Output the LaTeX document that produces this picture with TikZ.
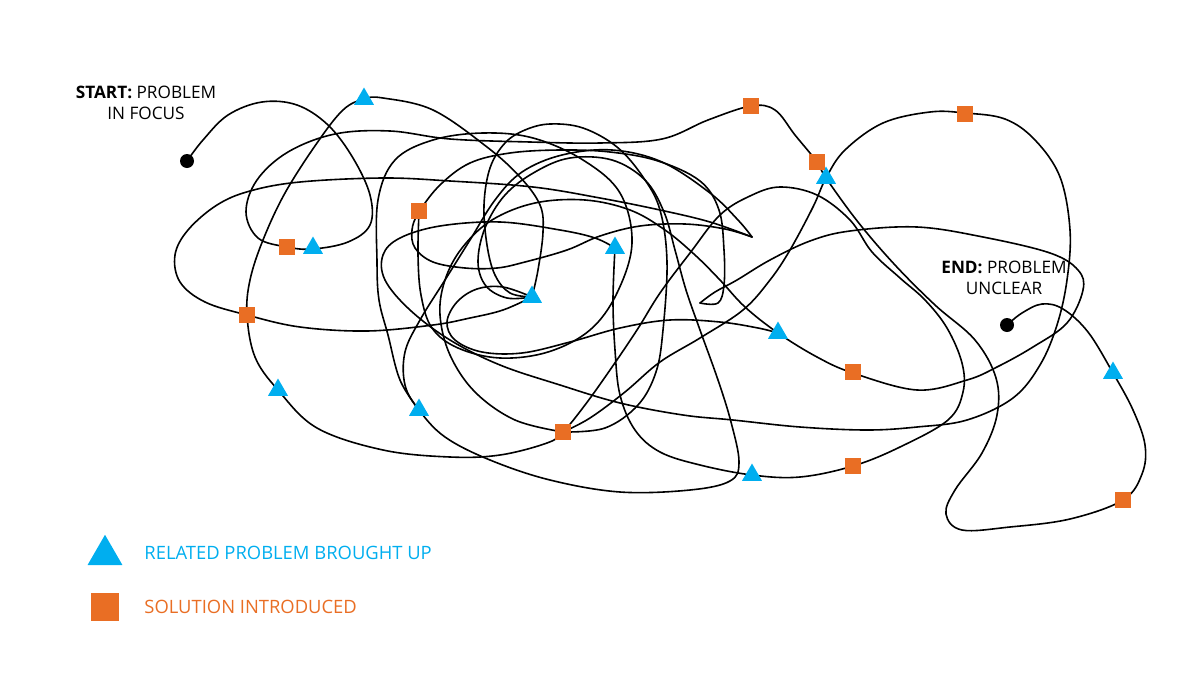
\documentclass[tikz,border=0pt]{standalone}
\usepackage{fontspec}
\setmainfont{Open Sans}
\usetikzlibrary{shapes.geometric}
\definecolor{tblue}{HTML}{00AEEF}
\definecolor{torange}{HTML}{E96E24}
\tikzset{
  scrib/.style={draw=black, line width=0.8pt, line join=round, line cap=round},
  tri/.style={regular polygon, regular polygon sides=3, fill=tblue, draw=none, inner sep=0pt, minimum size=11.5pt},
  sq/.style={rectangle, fill=torange, draw=none, inner sep=0pt, minimum size=8pt},
  dot/.style={circle, fill=black, draw=none, inner sep=0pt, minimum size=7pt},
  lab/.style={align=center, font=\fontsize{8.6}{10.2}\selectfont, text=black, inner sep=0pt},
  legtxt/.style={anchor=west, font=\fontsize{9.2}{11}\selectfont, inner sep=0pt}
}
\begin{document}
\begin{tikzpicture}[x=0.5pt,y=-0.5pt]
\useasboundingbox (0,0) rectangle (1200,675);
% P1 start to end
\draw[scrib] plot[smooth,tension=.6] coordinates {(187,161) (203,140) (228,115) (262,102) (297,105) (328,125) (353,158) (370,195) (370,225) (348,242) (313,249) (287,247) (258,238) (246,212) (257,180) (288,152) (335,134) (390,131) (450,139) (530,142) (600,143) (662,139) (708,120) (751,106) (775,110) (795,135) (817,162) (826,178) (858,222) (895,265) (935,305) (975,340) (996,378) (997,415) (982,453) (955,490) (946,514) (962,530) (1010,527) (1070,519) (1123,500) (1142,474) (1145,445) (1133,410) (1113,373) (1088,332) (1063,309) (1042,304) (1022,313) (1007,325)};
% P2
\draw[scrib] plot[smooth,tension=.6] coordinates {(532,297) (538,270) (543,232) (540,205) (520,177) (487,147) (433,110) (383,98) (364,99) (343,110) (317,143) (285,193) (263,240) (250,280) (247,315) (255,357) (278,390) (317,428) (383,450) (450,457) (500,455) (547,443) (563,432) (585,405) (610,370) (637,330) (660,293) (690,253) (720,215) (750,196) (780,187) (817,195) (850,220) (872,252) (900,278) (925,300) (947,328) (962,363) (963,392) (948,420) (900,447) (853,466) (800,477) (752,475) (700,465) (660,452) (635,430) (620,395) (615,350) (613,300) (615,248)};
% P3
\draw[scrib] plot[smooth,tension=.6] coordinates {(563,432) (590,418) (625,392) (660,362) (700,338) (743,310) (770,280) (790,250) (813,207) (826,178) (845,150) (883,123) (930,112) (965,113) (1005,119) (1035,140) (1060,177) (1070,230) (1067,280) (1057,325) (1040,365) (1013,398) (967,420) (917,427) (867,430) (800,427) (733,420) (683,415) (620,403) (560,385) (500,365) (450,340) (410,310) (385,280) (383,255) (400,238) (440,226) (500,222) (560,230) (595,238) (615,248)};
% P4 big left ellipse to hook
\draw[scrib] plot[smooth,tension=.6] coordinates {(532,297) (503,310) (470,318) (433,325) (367,331) (300,327) (247,315) (205,302) (180,282) (175,255) (188,230) (217,205) (250,191) (300,182) (383,178) (450,181) (533,187) (600,198) (660,210) (710,222) (752,237)};
\draw[scrib] plot[smooth,tension=.6] coordinates {(752,237) (738,220) (710,193) (662,162) (612,150) (562,155) (522,172) (495,200) (470,240) (445,280) (420,320) (405,352) (405,385) (419,410) (445,437) (490,460) (550,480) (620,492) (690,490) (730,481) (739,462) (731,422) (718,380) (700,330) (686,290) (675,250) (664,212) (645,180) (612,160) (570,158) (535,172) (505,195) (485,228) (478,262) (486,286) (507,298) (532,297)};
% P5
\draw[scrib] plot[smooth,tension=.6] coordinates {(752,237) (725,229) (685,224) (640,226) (600,236) (567,250) (525,262) (497,268) (465,268) (433,262) (415,248) (412,230) (419,212) (440,185) (470,163) (510,153) (560,150) (610,152) (658,161) (700,181) (719,210) (724,250) (724,285) (718,303) (700,303)};
\draw[scrib] plot[smooth,tension=.6] coordinates {(700,303) (715,292) (737,280) (770,260) (810,241) (850,231) (917,227) (983,237) (1050,253) (1078,270) (1083,290) (1067,323) (1033,347) (997,367) (967,380) (917,390) (853,373) (817,357) (778,333) (745,307) (720,280) (695,255) (665,230) (630,210) (585,200) (535,203) (492,220) (462,248) (445,280) (440,315) (450,355) (475,392) (515,420) (563,432)};
% P6 inner arches
\draw[scrib] plot[smooth,tension=.6] coordinates {(563,432) (605,428) (638,405) (656,372) (663,330) (667,262) (660,210) (643,177) (617,147) (583,128) (550,124) (525,130) (505,143) (490,168) (484,205) (487,245) (495,275) (510,293) (532,297)};
\draw[scrib] plot[smooth,tension=.6] coordinates {(419,410) (400,380) (388,335) (379,300) (377,262) (378,200) (395,160) (433,140) (483,133) (533,138) (583,160) (620,193) (632,243) (617,293) (590,330) (548,352) (500,358) (458,348) (432,328) (421,295) (418,255) (419,212)};
\draw[scrib] plot[smooth,tension=.6] coordinates {(532,297) (503,287) (477,289) (457,302) (447,322) (455,340) (482,352) (522,353) (570,342) (620,328) (670,320) (720,322) (758,328) (778,333)};
% markers: triangles
\node[tri] (t1) at (364,99) {};
\node[tri] (t2) at (313,248) {};
\node[tri] (t3) at (615,248) {};
\node[tri] (t4) at (532,297) {};
\node[tri] (t5) at (826,178) {};
\node[tri] (t6) at (778,333) {};
\node[tri] (t7) at (278,390) {};
\node[tri] (t8) at (419,410) {};
\node[tri] (t9) at (752,475) {};
\node[tri] (t10) at (1113,373) {};
% squares
\node[sq] (s1) at (751,106) {};
\node[sq] (s2) at (965,114) {};
\node[sq] (s3) at (817,162) {};
\node[sq] (s4) at (419,211) {};
\node[sq] (s5) at (287,247) {};
\node[sq] (s6) at (247,315) {};
\node[sq] (s7) at (853,372) {};
\node[sq] (s8) at (563,432) {};
\node[sq] (s9) at (853,466) {};
\node[sq] (s10) at (1123,500) {};
% dots
\node[dot] (start) at (187,161) {};
\node[dot] (end) at (1007,325) {};
% labels
\node[lab] (startlab) at (146,103) {\textbf{START:} PROBLEM\\IN FOCUS};
\node[lab] (endlab) at (1004,278) {\textbf{END:} PROBLEM\\UNCLEAR};
% legend
\node[tri, minimum size=20.2pt] (legt) at (105,555) {};
\node[sq, minimum size=14pt] (legs) at (105,607) {};
\node[legtxt, text=tblue] (legtt) at (144,553) {RELATED PROBLEM BROUGHT UP};
\node[legtxt, text=torange] (legst) at (144,607) {SOLUTION INTRODUCED};
\end{tikzpicture}
\end{document}
